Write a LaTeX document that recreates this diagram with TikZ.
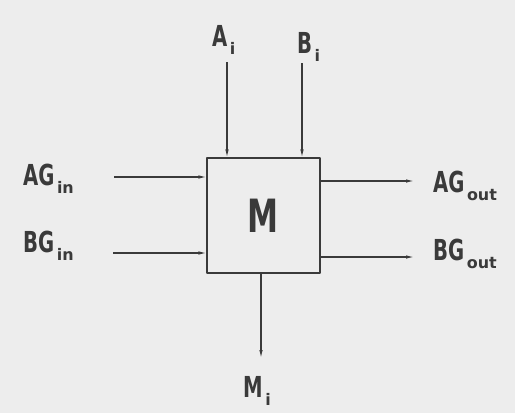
\documentclass[tikz,border=0pt]{standalone}
\usepackage{fontspec}
\setmainfont{DejaVu Sans}
\newfontfamily\narrowfont{DejaVu Sans}[FakeStretch=0.68]
\usetikzlibrary{arrows.meta}
\definecolor{paper}{HTML}{EDEDED}
\definecolor{ink}{HTML}{3A3A3A}
\tikzset{
  lbl/.style={draw=none,inner sep=0pt,anchor=base west,text=ink,font=\bfseries\fontsize{29}{31}\narrowfont},
  wire/.style={ink,line width=1.1bp,->},
}
\newcommand{\sbs}[1]{\hspace{2.5bp}\raisebox{-8bp}{\fontsize{16}{18}\selectfont\rmfamily\bfseries #1}}
\begin{document}
\begin{tikzpicture}[>={Latex[length=8bp,width=3.5bp]},line join=bevel,x=1bp,y=1bp]
%%
\fill [paper] (0,0) rectangle (515,413);
\useasboundingbox (0,0) rectangle (515,413);
\node (node_M) at (263.5,197.5) [draw=ink,line width=1.1bp,minimum width=113bp,minimum height=115bp,inner sep=0pt,text=ink,font=\bfseries\fontsize{46}{48}\narrowfont] {M};
  \node (node_Ai) at (212,367) [lbl] {A\sbs{i}};
  \node (node_Bi) at (297,360) [lbl] {B\sbs{i}};
  \node (node_AGin) at (23,228) [lbl] {AG\sbs{in}};
  \node (node_BGin) at (23,161) [lbl] {BG\sbs{in}};
  \node (node_AGout) at (433,221) [lbl] {AG\sbs{out}};
  \node (node_BGout) at (433,153) [lbl] {BG\sbs{out}};
  \node (node_Mi) at (243,16) [lbl] {M\sbs{i}};
  \coordinate (a_src) at (227,351);
  \coordinate (b_src) at (302,350);
  \coordinate (ag_src) at (114,236);
  \coordinate (bg_src) at (113,160);
  \coordinate (ag_dst) at (414,232);
  \coordinate (bg_dst) at (414,156);
  \coordinate (m_dst) at (261,55);
  \draw [wire] (a_src) -- (a_src |- node_M.north);
  \draw [wire] (b_src) -- (b_src |- node_M.north);
  \draw [wire] (ag_src) -- (ag_src -| node_M.west);
  \draw [wire] (bg_src) -- (bg_src -| node_M.west);
  \draw [wire] (ag_dst -| node_M.east) -- (ag_dst);
  \draw [wire] (bg_dst -| node_M.east) -- (bg_dst);
  \draw [wire] (m_dst |- node_M.south) -- (m_dst);
%
\end{tikzpicture}
\end{document}
